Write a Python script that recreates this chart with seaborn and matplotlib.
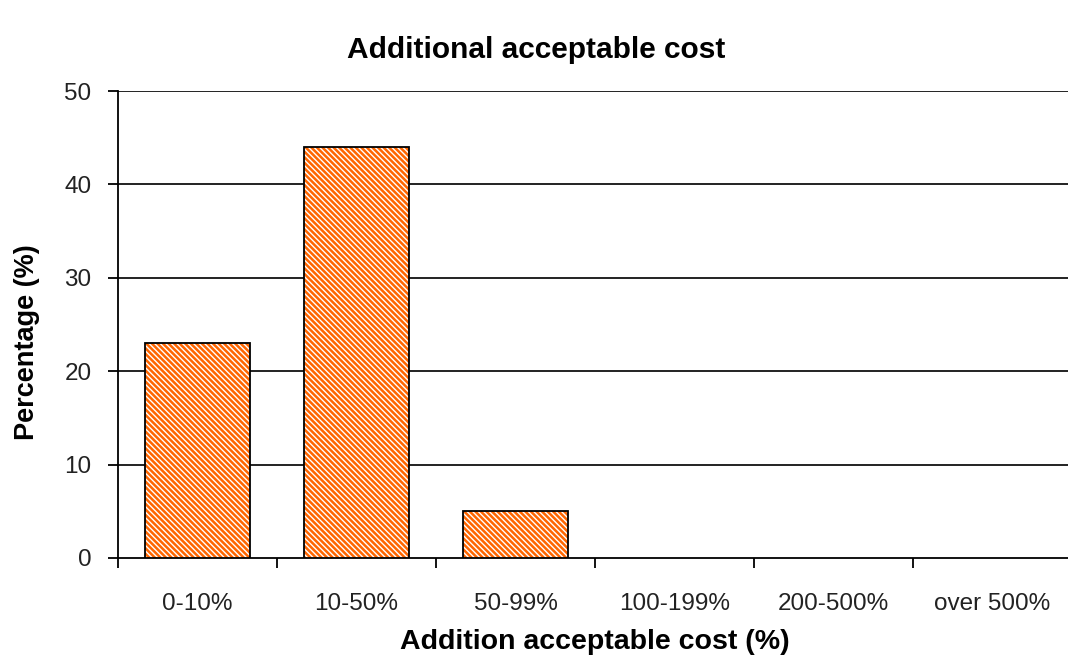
import matplotlib
matplotlib.use("Agg")
import matplotlib.pyplot as plt
from matplotlib.patches import Rectangle
import seaborn as sns

categories = ["0-10%", "10-50%", "50-99%", "100-199%", "200-500%", "over 500%"]
percentages = [23, 44, 5, 0, 0, 0]
y_ticks = [0, 10, 20, 30, 40, 50]

sns.set_theme(style="white")
plt.rcParams["font.family"] = ["Liberation Sans", "DejaVu Sans"]
plt.rcParams["hatch.linewidth"] = 1.0

fig = plt.figure(figsize=(10.68, 6.58), dpi=100)
ax = fig.add_axes([118 / 1068, 1 - 558 / 658, (1072 - 118) / 1068, (558 - 91) / 658])

sns.barplot(x=categories, y=percentages, color="#FF6600", width=0.66,
            saturation=1, ax=ax, zorder=3)

# Striped fill with a black outline on every bar
for patch in list(ax.patches):
    patch.set_hatch("\\" * 6)
    patch.set_edgecolor("white")
    patch.set_linewidth(0)
    if patch.get_height() > 0:
        outline = Rectangle(patch.get_xy(), patch.get_width(), patch.get_height(),
                            facecolor="none", edgecolor="black", linewidth=1.3, zorder=4)
        ax.add_patch(outline)

ax.set_ylim(0, 50)
ax.set_xlim(-0.5, len(categories) - 0.5)
ax.set_yticks(y_ticks)
for y in y_ticks[1:]:
    ax.axhline(y, color="#111111", linewidth=1.3, zorder=1)

# Boundary ticks between categories; labels sit at category centres
ax.set_xticks([i - 0.5 for i in range(len(categories))])
ax.set_xticklabels([])
ax.set_xticks(range(len(categories)), minor=True)
ax.set_xticklabels(categories, minor=True)
ax.tick_params(axis="x", which="major", direction="out", length=7, width=1.3,
               color="black", bottom=True)
ax.tick_params(axis="x", which="minor", length=0, pad=25.5, labelsize=17.5,
               labelcolor="#222222")
ax.tick_params(axis="y", direction="out", length=7, width=1.3, color="black",
               left=True, labelsize=17.5, labelcolor="#222222", pad=12)

for side in ("top", "right"):
    ax.spines[side].set_visible(False)
for side in ("left", "bottom"):
    ax.spines[side].set_color("black")
    ax.spines[side].set_linewidth(1.3)

ax.set_title("Additional acceptable cost", fontsize=21.5, fontweight="bold",
             color="black", pad=24, x=0.438)
ax.set_xlabel("Addition acceptable cost (%)", fontsize=20.5, fontweight="bold",
              color="black", labelpad=9.5)
ax.set_ylabel("Percentage (%)", fontsize=19.5, fontweight="bold", color="black")
ax.yaxis.set_label_coords(-0.082, 0.4625)

fig.savefig("out.png", dpi=100, facecolor="white")
